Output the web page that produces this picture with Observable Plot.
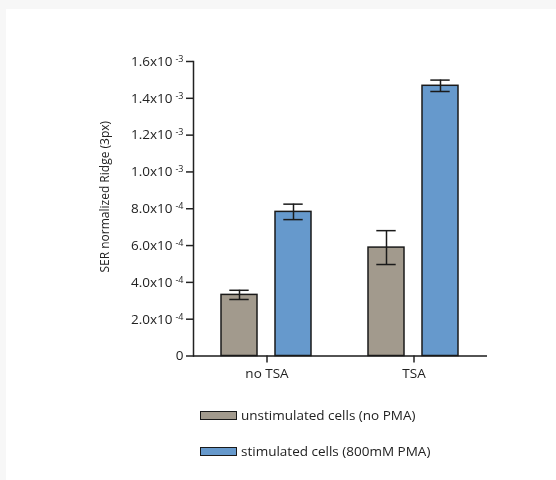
<!DOCTYPE html>
<html>
<head>
<meta charset="utf-8">
<script src="https://cdn.jsdelivr.net/npm/d3@7"></script>
<script src="https://cdn.jsdelivr.net/npm/@observablehq/plot@0.6"></script>
<style>
  html, body { margin: 0; padding: 0; }
  body { background: #f7f7f7; font-family: "Open Sans", sans-serif; }
  #bg { position: fixed; left: 6px; top: 9px; right: 0; bottom: 0; background: #fff; }
  #chart { position: absolute; left: 0; top: 0; width: 556px; }
  #chart svg g[aria-label="y-axis tick"], #chart svg g[aria-label="fx-axis tick"] { stroke-width: 1.5; stroke: #333; }
  #chart svg [aria-label="frame"] { stroke-width: 1.5; stroke: #333; }
  .legend { margin-top: 7px; padding-left: 200px; font-size: 13.5px; color: #222; }
  .legend .row { display: flex; align-items: center; height: 36px; }
  .legend .sw { width: 35px; height: 7px; border: 1px solid #1a1a1a; margin-right: 4px; }
</style>
</head>
<body>
<div id="bg"></div>
<div id="chart"></div>
<script>
const groups = ["no TSA", "TSA"];
const seriesKeys = ["unstim", "stim"];
const seriesLabels = ["unstimulated cells (no PMA)", "stimulated cells (800mM PMA)"];
const seriesColors = ["#a29a8d", "#6699cc"];
const unstimValues = [3.32e-4, 5.89e-4];
const unstimErrors = [0.25e-4, 0.92e-4];
const stimValues = [7.83e-4, 1.468e-3];
const stimErrors = [0.42e-4, 0.31e-4];
const yTicks = [0, 2e-4, 4e-4, 6e-4, 8e-4, 1.0e-3, 1.2e-3, 1.4e-3, 1.6e-3];
const yLabel = "SER normalized Ridge (3px)";

const data = groups.flatMap((g, i) => [
  {group: g, series: "unstim", value: unstimValues[i], err: unstimErrors[i]},
  {group: g, series: "stim", value: stimValues[i], err: stimErrors[i]}
]);

function fmt(v) {
  if (v === 0) return "0";
  const e = v >= 9.99e-4 ? -3 : -4;
  return (v / Math.pow(10, e)).toFixed(1) + "x10|" + e;
}

const ink = "#1a1a1a";
const plot = Plot.plot({
  width: 556,
  height: 390,
  marginLeft: 192,
  marginRight: 69,
  marginTop: 61,
  marginBottom: 34.5,
  style: {fontFamily: "'Open Sans', sans-serif", fontSize: "13.5px", background: "transparent", color: "#222"},
  fx: {domain: groups, padding: 0, label: null, axis: null},
  x: {domain: seriesKeys, paddingInner: 0.333, paddingOuter: 0.503, axis: null},
  y: {domain: [0, 1.6e-3], ticks: yTicks, tickFormat: fmt, tickSize: 7, tickPadding: 3, line: true,
      label: yLabel, labelAnchor: "center", labelOffset: 93, labelArrow: "none"},
  color: {domain: seriesKeys, range: seriesColors},
  marks: [
    Plot.barY(data, {fx: "group", x: "series", y: "value", fill: "series", stroke: ink, strokeWidth: 1.5}),
    Plot.ruleX(data, {fx: "group", x: "series", y1: d => d.value - d.err, y2: d => d.value + d.err, stroke: ink, strokeWidth: 1.5}),
    Plot.tickY(data, {fx: "group", x: "series", y: d => d.value - d.err, stroke: ink, strokeWidth: 1.5, insetLeft: 8.3, insetRight: 8.3}),
    Plot.tickY(data, {fx: "group", x: "series", y: d => d.value + d.err, stroke: ink, strokeWidth: 1.5, insetLeft: 8.3, insetRight: 8.3}),
    Plot.ruleY([0], {stroke: ink, strokeWidth: 1.5}),
    Plot.axisFx({anchor: "bottom", tickSize: 7, tickPadding: 5, label: null, fontSize: 13.5})
  ]
});

// superscript exponents in y tick labels
plot.querySelectorAll("text").forEach(t => {
  const s = t.textContent;
  if (s.includes("|")) {
    const [base, exp] = s.split("|");
    t.textContent = base;
    const ts = document.createElementNS("http://www.w3.org/2000/svg", "tspan");
    ts.setAttribute("dx", "3");
    ts.setAttribute("dy", "-4");
    ts.setAttribute("font-size", "9");
    ts.textContent = exp;
    t.appendChild(ts);
  }
  if (s === yLabel) {
    t.setAttribute("dx", "12");
    t.setAttribute("font-size", "12");
  }
});

const chart = document.getElementById("chart");
chart.appendChild(plot);

const legend = document.createElement("div");
legend.className = "legend";
seriesLabels.forEach((lab, i) => {
  const row = document.createElement("div");
  row.className = "row";
  const sw = document.createElement("div");
  sw.className = "sw";
  sw.style.background = seriesColors[i];
  const tx = document.createElement("span");
  tx.textContent = lab;
  row.appendChild(sw);
  row.appendChild(tx);
  legend.appendChild(row);
});
chart.appendChild(legend);
</script>
</body>
</html>
